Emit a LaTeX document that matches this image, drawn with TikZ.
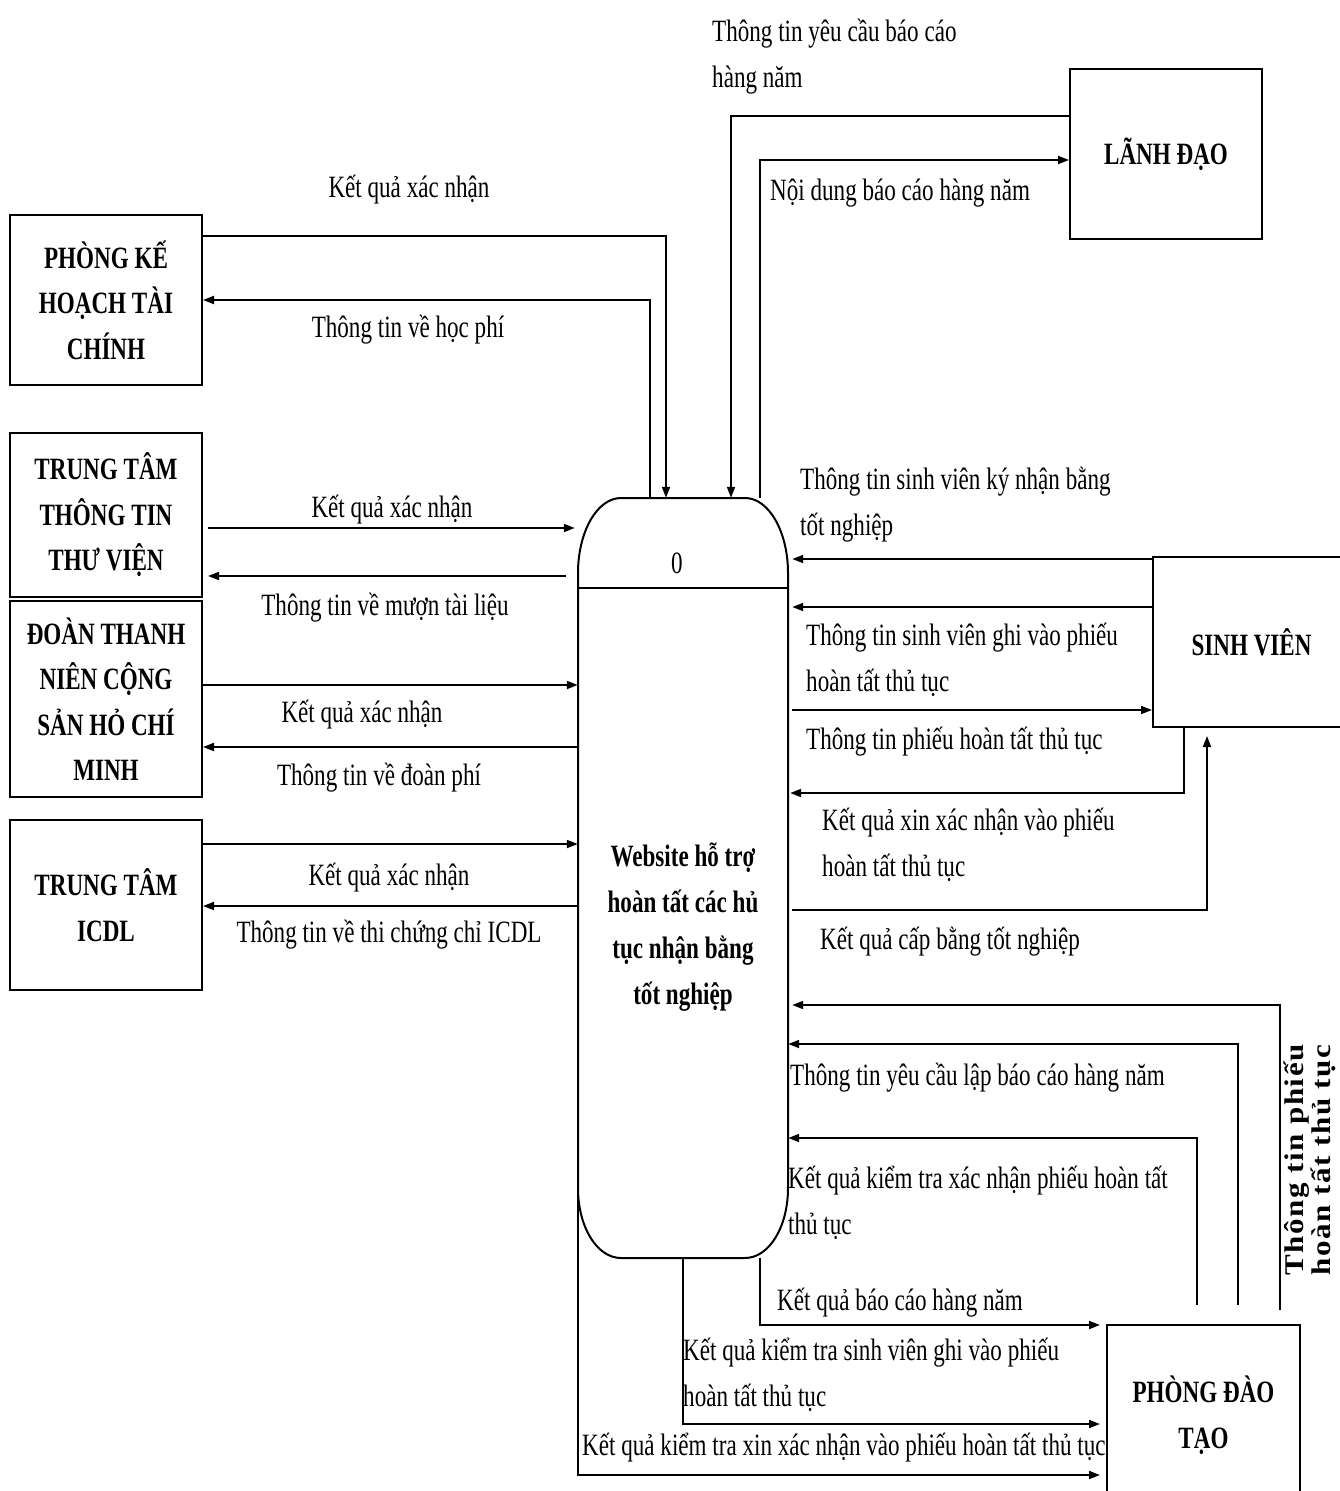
\documentclass[tikz,border=0pt]{standalone}
\usepackage{fontspec}
\setmainfont{Liberation Serif}[FakeStretch=0.745]
\newfontfamily\vfont{Liberation Serif}[FakeStretch=1.15,LetterSpace=6]
\usetikzlibrary{arrows.meta,calc}

\tikzset{
  entity/.style={draw, line width=2pt, minimum width=192pt, minimum height=170pt,
    align=center, inner sep=0pt, font=\fontsize{31}{45.5}\selectfont\bfseries},
  flow/.style={line width=1.8pt, -{Triangle[length=11pt,width=8pt]}},
  lbl/.style={inner sep=0pt, align=left, font=\fontsize{31}{46}\selectfont},
}

\begin{document}
\begin{tikzpicture}[x=1pt,y=-1pt]
\useasboundingbox (0,0) rectangle (1339,1491);

% external entities
\node[entity] (pk) at (106,300) {PHÒNG KẾ\\HOẠCH TÀI\\CHÍNH};
\node[entity, minimum height=164pt] (tv) at (106,515) {TRUNG TÂM\\THÔNG TIN\\THƯ VIỆN};
\node[entity, minimum height=196pt] (dt) at (106,699) {ĐOÀN THANH\\NIÊN CỘNG\\SẢN HỎ CHÍ\\MINH};
\node[entity] (icdl) at (106,905) {TRUNG TÂM\\ICDL};
\node[entity] (ld) at (1166,154) {LÃNH ĐẠO};
\node[entity, minimum width=197pt] (sv) at (1251.5,642) {SINH VIÊN};
\node[entity, minimum width=193pt, minimum height=180pt] (pdt) at (1203.5,1415) {PHÒNG ĐÀO\\TẠO};

% process 0
\node[minimum width=210pt, minimum height=760pt, inner sep=0pt] (proc) at (683,878) {};
\draw[line width=2pt] (578,573) .. controls (578,532) and (597,498) .. (621,498)
  -- (745,498) .. controls (769,498) and (788,532) .. (788,573)
  -- (788,1188) .. controls (788,1227) and (769,1258) .. (745,1258)
  -- (621,1258) .. controls (597,1258) and (578,1227) .. (578,1188) -- cycle;
\draw[line width=2pt] (proc.west |- 0,588) -- (proc.east |- 0,588);
\node[font=\fontsize{31}{36}\selectfont] (pid) at (677,563) {0};
\node[align=center, inner sep=0pt, font=\fontsize{31}{46}\selectfont\bfseries] (pname) at (683,927)
  {Website hỗ trợ\\hoàn tất các hủ\\tục nhận bằng\\tốt nghiệp};

% free ends of the flows coming up from PHÒNG ĐÀO TẠO
\coordinate (k1) at (1197,1305);
\coordinate (k2) at (1238,1305);
\coordinate (k3) at (1280,1310);

% flows: LÃNH ĐẠO
\draw[flow] (ld.west |- 0,116) -| (proc.north -| 731,0);
\draw[flow] (proc.north -| 760,0) |- (ld.west |- 0,160);
% flows: PHÒNG KẾ HOẠCH TÀI CHÍNH
\draw[flow] (pk.east |- 0,236) -| (proc.north -| 666,0);
\draw[flow] (proc.north -| 650,0) |- (pk.east |- 0,300);
% flows: TRUNG TÂM THÔNG TIN THƯ VIỆN
\draw[flow] ($(tv.east |- 0,528)+(5,0)$) -- ($(proc.west |- 0,528)+(-3,0)$);
\draw[flow] ($(proc.west |- 0,576)+(-12,0)$) -- ($(tv.east |- 0,576)+(5,0)$);
% flows: ĐOÀN THANH NIÊN
\draw[flow] (dt.east |- 0,685) -- (proc.west |- 0,685);
\draw[flow] (proc.west |- 0,747) -- (dt.east |- 0,747);
% flows: TRUNG TÂM ICDL
\draw[flow] (icdl.east |- 0,844) -- (proc.west |- 0,844);
\draw[flow] (proc.west |- 0,906) -- (icdl.east |- 0,906);
% flows: SINH VIÊN
\draw[flow] (sv.west |- 0,559) -- ($(proc.east |- 0,559)+(4,0)$);
\draw[flow] (sv.west |- 0,607) -- ($(proc.east |- 0,607)+(4,0)$);
\draw[flow] ($(proc.east |- 0,710)+(4,0)$) -- (sv.west |- 0,710);
\draw[flow] (sv.south -| 1184,0) |- ($(proc.east |- 0,793)+(2,0)$);
\draw[flow] ($(proc.east |- 0,910)+(4,0)$) -| ($(sv.south -| 1207,0)+(0,8)$);
% flows: PHÒNG ĐÀO TẠO
\draw[flow] (k3) |- ($(proc.east |- 0,1005)+(4,0)$);
\draw[flow] (k2) |- (proc.east |- 0,1044);
\draw[flow] (k1) |- (proc.east |- 0,1138);
\draw[flow] (proc.west |- 0,1190) |- ($(pdt.west |- 0,1475)+(-6,0)$);
\draw[flow] (proc.south -| 683,0) |- ($(pdt.west |- 0,1424)+(-6,0)$);
\draw[flow] (proc.south -| 760,0) |- ($(pdt.west |- 0,1325)+(-6,0)$);

% flow labels
\node[lbl, anchor=west] (l1) at (712,57) {Thông tin yêu cầu báo cáo\\hàng năm};
\node[lbl, anchor=west] (l2) at (770,193) {Nội dung báo cáo hàng năm};
\node[lbl] (l3) at (409,190) {Kết quả xác nhận};
\node[lbl] (l4) at (408,330) {Thông tin về học phí};
\node[lbl] (l5) at (392,510) {Kết quả xác nhận};
\node[lbl] (l6) at (385,608) {Thông tin về mượn tài liệu};
\node[lbl] (l7) at (362,715) {Kết quả xác nhận};
\node[lbl] (l8) at (379,778) {Thông tin về đoàn phí};
\node[lbl] (l9) at (389,878) {Kết quả xác nhận};
\node[lbl] (l10) at (389,935) {Thông tin về thi chứng chỉ ICDL};
\node[lbl, anchor=west] (l11) at (800,505) {Thông tin sinh viên ký nhận bằng\\tốt nghiệp};
\node[lbl, anchor=west] (l12) at (806,660) {Thông tin sinh viên ghi vào phiếu\\hoàn tất thủ tục};
\node[lbl, anchor=west] (l13) at (806,742) {Thông tin phiếu hoàn tất thủ tục};
\node[lbl, anchor=west] (l14) at (822,845) {Kết quả xin xác nhận vào phiếu\\hoàn tất thủ tục};
\node[lbl, anchor=west] (l15) at (820,942) {Kết quả cấp bằng tốt nghiệp};
\node[lbl, anchor=west] (l16) at (790,1078) {Thông tin yêu cầu lập báo cáo hàng năm};
\node[lbl, anchor=west] (l17) at (788,1203) {Kết quả kiểm tra xác nhận phiếu hoàn tất\\thủ tục};
\node[lbl, anchor=west] (l18) at (777,1303) {Kết quả báo cáo hàng năm};
\node[lbl, anchor=west] (l19) at (683,1375) {Kết quả kiểm tra sinh viên ghi vào phiếu\\hoàn tất thủ tục};
\node[lbl, anchor=west] (l20) at (582,1448) {Kết quả kiểm tra xin xác nhận vào phiếu hoàn tất thủ tục};
\node[inner sep=0pt, align=center, rotate=90, font=\fontsize{27}{27}\vfont\bfseries] (l21) at (1310,1160)
  {Thông tin phiếu\\hoàn tất thủ tục};
\end{tikzpicture}
\end{document}
